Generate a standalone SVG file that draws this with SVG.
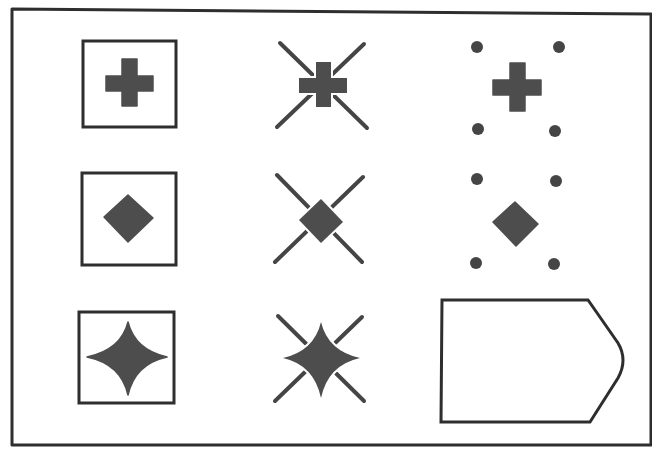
<svg xmlns="http://www.w3.org/2000/svg" width="652" height="449" viewBox="0 0 652 449">
<style>
.frame{fill:none;stroke:#2e2e2e;stroke-width:3;stroke-linejoin:round}
.box{fill:none;stroke:#2e2e2e;stroke-width:3}
.shape{fill:#4d4d4d;stroke:#4d4d4d;stroke-width:1.5;stroke-linejoin:round}
.gap{fill:#4d4d4d;stroke:#ffffff;stroke-width:4;paint-order:stroke}
.x{stroke:#454545;stroke-width:4;stroke-linecap:round}
.dot{fill:#454545}
</style>
<rect width="652" height="449" fill="#ffffff"/>
<path class="frame" d="M12,9 L651,14 L651,445 L12,445 Z"/>

<g id="r1c1">
<rect class="box" x="83" y="41" width="93" height="86"/>
<path class="shape" d="M122,59 H137 V76 H153 V91 H137 V106 H122 V91 H106 V76 H122 Z"/>
</g>

<g id="r1c2">
<line class="x" x1="280" y1="43" x2="367" y2="128"/>
<line class="x" x1="364" y1="44" x2="277" y2="127"/>
<path class="gap" d="M316,62 H331 V78 H347 V93 H331 V107 H316 V93 H299 V78 H316 Z"/>
</g>

<g id="r1c3">
<circle class="dot" cx="477" cy="47" r="6"/>
<circle class="dot" cx="559" cy="47" r="6"/>
<circle class="dot" cx="478" cy="129" r="6"/>
<circle class="dot" cx="555" cy="131" r="6"/>
<path class="shape" d="M510,63 H525 V80 H541 V95 H525 V111 H510 V95 H493 V80 H510 Z"/>
</g>

<g id="r2c1">
<rect class="box" x="82" y="173" width="94" height="92"/>
<path class="shape" d="M128,195 L153,218 L128,242 L104,217 Z"/>
</g>

<g id="r2c2">
<line class="x" x1="277" y1="175" x2="362" y2="262"/>
<line class="x" x1="363" y1="177" x2="275" y2="262"/>
<path class="gap" d="M321,199 L343,222 L321,243 L299,220 Z"/>
</g>

<g id="r2c3">
<circle class="dot" cx="477" cy="179" r="6"/>
<circle class="dot" cx="556" cy="181" r="6"/>
<circle class="dot" cx="476" cy="263" r="6"/>
<circle class="dot" cx="554" cy="264" r="6"/>
<path class="shape" d="M515,202 L538,224 L516,246 L493,222 Z"/>
</g>

<g id="r3c1">
<rect class="box" x="79" y="312" width="95" height="91"/>
<path class="shape" d="M128,322 Q135,350 167,357 Q135,364 128,395 Q121,364 87,357 Q121,350 128,322 Z"/>
</g>

<g id="r3c2">
<line class="x" x1="278" y1="316" x2="364" y2="401"/>
<line class="x" x1="362" y1="317" x2="275" y2="401"/>
<path class="gap" d="M321,322 Q328,351 360,358 Q328,365 321,398 Q314,365 283,358 Q314,351 321,322 Z"/>
</g>

<g id="r3c3">
<path class="box" d="M442,300 L588,300 L618,343 Q628,360 618,378 L590,422 L441,422 Z"/>
</g>
</svg>
